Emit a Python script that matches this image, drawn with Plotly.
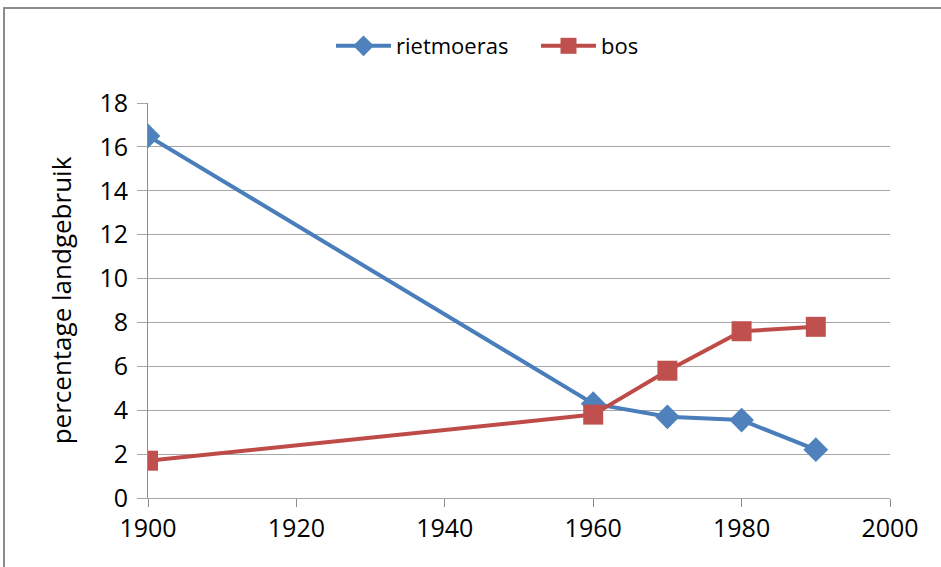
import plotly.graph_objects as go

# Land use share over time (percent of total area)
years = [1900, 1960, 1970, 1980, 1990]
rietmoeras = [16.5, 4.3, 3.7, 3.55, 2.2]
bos = [1.7, 3.8, 5.8, 7.6, 7.8]

x_ticks = [1900, 1920, 1940, 1960, 1980, 2000]
y_ticks = [0, 2, 4, 6, 8, 10, 12, 14, 16, 18]

FONT = "Open Sans, Lato, sans-serif"

fig = go.Figure()
fig.add_trace(go.Scatter(
    x=years, y=rietmoeras, name="rietmoeras", mode="lines+markers",
    line=dict(color="#4A7EBB", width=4),
    marker=dict(symbol="diamond", size=19, color="#4F81BD",
                line=dict(width=0)),
))
fig.add_trace(go.Scatter(
    x=years, y=bos, name="bos", mode="lines+markers",
    line=dict(color="#BE4B48", width=4),
    marker=dict(symbol="square", size=20, color="#C0504D",
                line=dict(width=0)),
))

# outer chart frame (Excel-style border)
L, R, T, B = 148, 51, 103, 69
W, H = 941, 567
pw, ph = W - L - R, H - T - B
def px_x(p):
    return (p - L) / pw
def px_y(p):
    return (H - B - p) / ph

fig.add_shape(type="rect", xref="paper", yref="paper",
              x0=px_x(4), x1=px_x(960), y0=px_y(590), y1=px_y(8),
              line=dict(color="#8C8C8C", width=2), fillcolor="rgba(0,0,0,0)",
              layer="below")

fig.update_layout(
    width=W, height=H,
    margin=dict(l=L, r=R, t=T, b=B),
    paper_bgcolor="white", plot_bgcolor="white",
    font=dict(family=FONT, color="#000000"),
    showlegend=True,
    legend=dict(orientation="h", x=px_x(331), xanchor="left",
                y=px_y(46), yanchor="middle",
                font=dict(size=22, family=FONT), itemwidth=55,
                entrywidth=135, entrywidthmode="pixels",
                bgcolor="rgba(0,0,0,0)", traceorder="normal"),
    xaxis=dict(range=[1900, 2000], tickvals=x_ticks,
               ticktext=[str(v) for v in x_ticks],
               showgrid=False, zeroline=False,
               showline=True, linecolor="#A6A6A6", linewidth=1,
               ticks="outside", ticklen=8, tickwidth=1,
               tickcolor="#8C8C8C", tickfont=dict(size=25, family=FONT),
               fixedrange=True),
    yaxis=dict(range=[0, 18], tickvals=y_ticks,
               ticktext=[str(v) for v in y_ticks],
               showgrid=True, gridcolor="#A6A6A6", gridwidth=1,
               zeroline=False, showline=True, linecolor="#8C8C8C", linewidth=1,
               ticks="outside", ticklen=10, tickwidth=1, tickcolor="#A6A6A6",
               ticklabelstandoff=4,
               tickfont=dict(size=25, family=FONT),
               title=dict(text="percentage landgebruik",
                          font=dict(size=26, family=FONT), standoff=20),
               fixedrange=True),
)

fig.write_html("out.html")
